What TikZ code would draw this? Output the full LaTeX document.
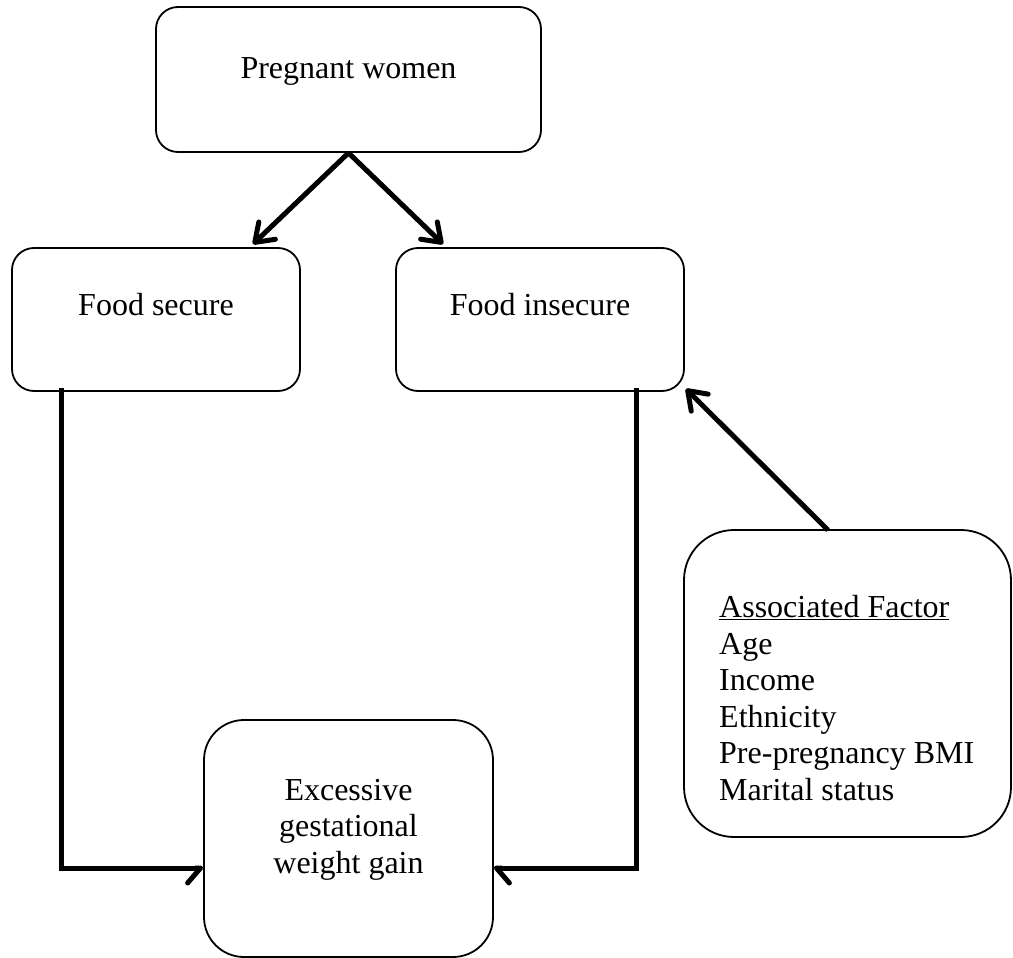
\documentclass[tikz,border=0pt]{standalone}
\usepackage{fontspec}
\setmainfont{Liberation Serif}
\usetikzlibrary{arrows.meta,calc}
\begin{document}
\begin{tikzpicture}[x=1pt,y=-1pt,
  box/.style={draw=black,line width=1.8pt,rectangle,inner sep=0pt,fill=white},
  lbl/.style={inner sep=0pt,font=\fontsize{32}{36.5}\selectfont},
  conn/.style={line width=5pt,-{Straight Barb[length=17pt,width=24pt,round]}},
  elbow/.style={line width=5pt}]
\useasboundingbox (0,0) rectangle (1013,958);
% boxes
\node[box,rounded corners=22pt,minimum width=385pt,minimum height=145pt] (pw) at (348.5,79.5) {};
\node[box,rounded corners=22pt,minimum width=288pt,minimum height=143pt] (fs) at (156,319.5) {};
\node[box,rounded corners=22pt,minimum width=288pt,minimum height=143pt] (fi) at (540,319.5) {};
\node[box,rounded corners=40pt,minimum width=289pt,minimum height=237pt] (ex) at (348.5,838.5) {};
\node[box,rounded corners=50pt,minimum width=327pt,minimum height=307pt] (af) at (847.5,683.5) {};
% texts
\node[lbl,anchor=base] (tpw) at (348.5,79) {Pregnant women};
\node[lbl,anchor=base] (tfs) at (156,315) {Food secure};
\node[lbl,anchor=base] (tfi) at (540,315) {Food insecure};
\node[lbl,anchor=base,align=center] (tex) at (348.5,873) {Excessive\\gestational\\weight gain};
\node[lbl,anchor=base west,align=left] (taf) at (719,800) {\underline{Associated Factor}\\Age\\Income\\Ethnicity\\Pre-pregnancy BMI\\Marital status};
% connectors
\draw[conn] (pw.south) -- ($(fs.north)+(97,-3)$);
\draw[conn] (pw.south) -- ($(fi.north)+(-97,-3)$);
\draw[conn] ($(af.north)+(-19.5,1)$) -- ($(fi.south east)+(1,-3)$);
\draw[elbow,-{Straight Barb[right,length=13pt,width=30pt,round]}] ($(fs.south)+(-95,-4)$) |- ($(ex.west)+(0,29.5)$);
\draw[elbow,-{Straight Barb[left,length=13pt,width=30pt,round]}] ($(fi.south)+(96,-4)$) |- ($(ex.east)+(0,29.5)$);
\end{tikzpicture}
\end{document}
